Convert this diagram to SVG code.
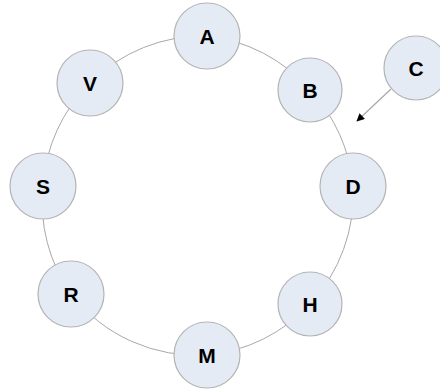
<svg xmlns="http://www.w3.org/2000/svg" width="440" height="391" viewBox="0 0 440 391">
<style>
.node circle{fill:#e5ebf5;stroke:#b4b4b4;stroke-width:1.2}
.node text{font-family:"Liberation Sans",Arial,sans-serif;font-weight:bold;font-size:21px;fill:#000;text-anchor:middle}
.ring{fill:none;stroke:#a8a8a8;stroke-width:1}
.arrow{stroke:#a8a8a8;stroke-width:1.2;fill:none}
</style>
<defs>
<marker id="ah" viewBox="0 0 10 10" refX="9" refY="5" markerWidth="8" markerHeight="8" markerUnits="userSpaceOnUse" orient="auto">
<path d="M0,0 L10,5 L0,10 Z" fill="#000"/>
</marker>
</defs>
<rect width="440" height="391" fill="#fff"/>
<g id="connectors">
<path class="ring" d="M207,36 A160,160 0 0 1 310,90 A160,160 0 0 1 353,186 A160,160 0 0 1 310,304 A160,160 0 0 1 207,355 A160,160 0 0 1 71,294 A160,160 0 0 1 43,186 A160,160 0 0 1 90,83 A160,160 0 0 1 207,36 Z"/>
<line class="arrow" x1="391" y1="89" x2="357" y2="121" marker-end="url(#ah)"/>
</g>
<g id="node-A" class="node"><circle cx="207" cy="36" r="33"/><text x="207" y="44">A</text></g>
<g id="node-B" class="node"><circle cx="310" cy="90" r="32"/><text x="310" y="98">B</text></g>
<g id="node-C" class="node"><circle cx="416" cy="68" r="32"/><text x="416" y="76">C</text></g>
<g id="node-D" class="node"><circle cx="353" cy="186" r="33"/><text x="353" y="194">D</text></g>
<g id="node-H" class="node"><circle cx="310" cy="304" r="32"/><text x="310" y="312">H</text></g>
<g id="node-M" class="node"><circle cx="207" cy="355" r="33"/><text x="207" y="363">M</text></g>
<g id="node-R" class="node"><circle cx="71" cy="294" r="33"/><text x="71" y="302">R</text></g>
<g id="node-S" class="node"><circle cx="43" cy="186" r="33"/><text x="43" y="194">S</text></g>
<g id="node-V" class="node"><circle cx="90" cy="83" r="33"/><text x="90" y="91">V</text></g>
</svg>
